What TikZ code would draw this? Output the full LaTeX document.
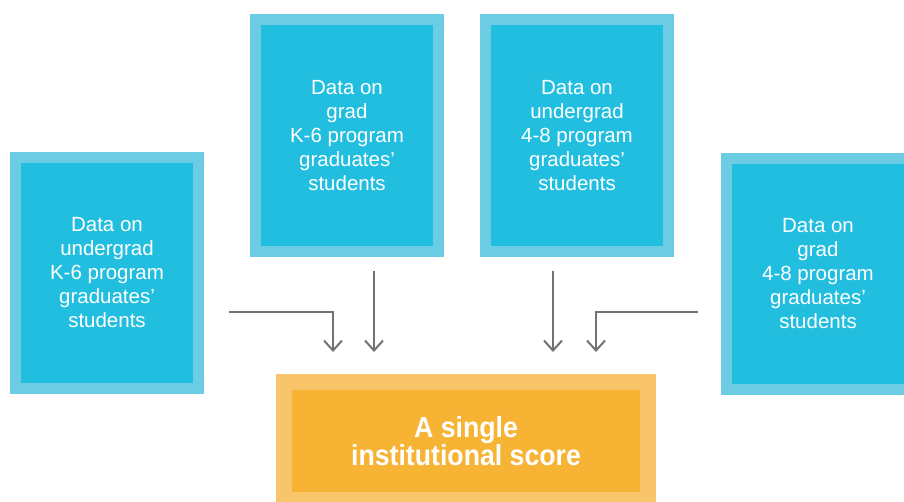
\documentclass[tikz,border=0pt]{standalone}
\usepackage{fontspec}
\setmainfont{Liberation Sans}
\newfontfamily\scorefont[FakeStretch=0.92]{Liberation Sans}
\usetikzlibrary{arrows.meta}
\definecolor{bluein}{HTML}{22BEDF}
\definecolor{blueout}{HTML}{6CCCE4}
\definecolor{orangein}{HTML}{F6B334}
\definecolor{orangeout}{HTML}{F9C56B}
\definecolor{arrowgrey}{HTML}{717277}
\begin{document}
\begin{tikzpicture}[x=1pt,y=-1pt,
  bluebox/.style={draw=blueout, fill=bluein, line width=11pt, minimum width=183pt,
    minimum height=231pt, inner sep=0pt, text=white, align=center,
    font=\fontsize{20.5}{24}\selectfont},
  scorebox/.style={draw=orangeout, fill=orangein, line width=16pt, minimum width=364pt,
    minimum height=118pt, inner sep=0pt, text=white, align=center,
    font=\scorefont\bfseries\fontsize{29}{27}\selectfont},
  flow/.style={draw=arrowgrey, line width=2pt,
    -{Straight Barb[length=10pt,width=18pt,line width=2pt]}}]
\useasboundingbox (0,0) rectangle (904,502);
\clip (0,0) rectangle (904,502);
\fill[white] (0,0) rectangle (904,502);

\node[bluebox] (ugk6) at (107,273) {Data on\\undergrad\\K-6 program\\graduates’\\students};
\node[bluebox, minimum height=232pt] (gk6) at (347,135.5) {Data on\\grad\\K-6 program\\graduates’\\students};
\node[bluebox, minimum height=232pt] (ug48) at (577,135.5) {Data on\\undergrad\\4-8 program\\graduates’\\students};
\node[bluebox] (g48) at (818,274) {Data on\\grad\\4-8 program\\graduates’\\students};
\node[scorebox] (score) at (466,441) {A single\\institutional score};

\coordinate (s1) at (229,312);
\coordinate (e1) at (333,352);
\coordinate (s2) at (374,271);
\coordinate (e2) at (374,352);
\coordinate (s3) at (553,271);
\coordinate (e3) at (553,352);
\coordinate (s4) at (698,312);
\coordinate (e4) at (596,352);

\draw[flow] (s1) -| (e1);
\draw[flow] (s2) -- (e2);
\draw[flow] (s3) -- (e3);
\draw[flow] (s4) -| (e4);
\end{tikzpicture}
\end{document}
